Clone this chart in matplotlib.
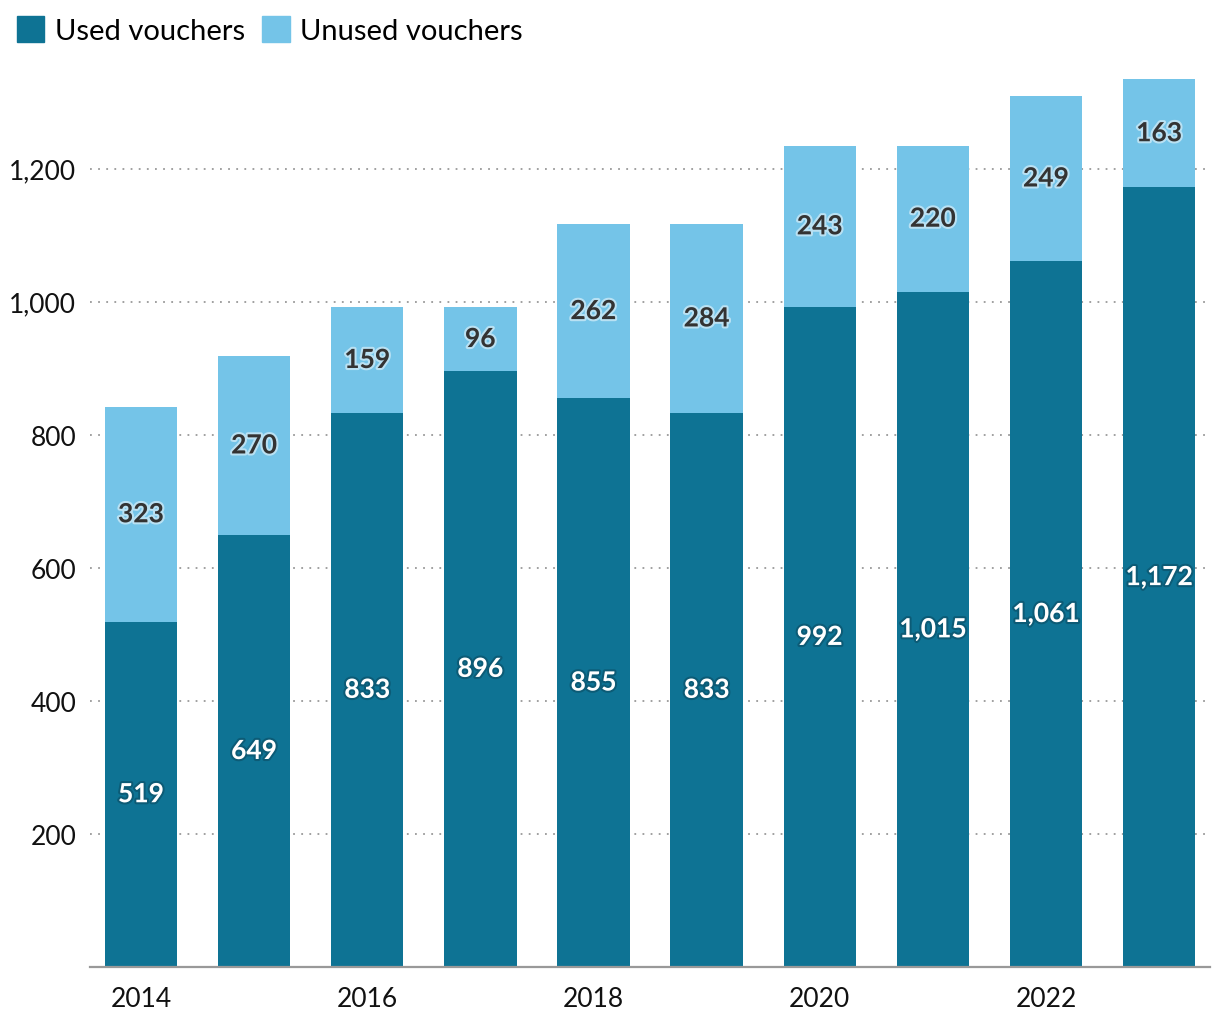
import numpy as np
import matplotlib
matplotlib.use("Agg")
import matplotlib.pyplot as plt
import matplotlib.patheffects as pe
from matplotlib.patches import Patch

plt.rcParams['font.family'] = ['Lato', 'DejaVu Sans']

years = [2014, 2015, 2016, 2017, 2018, 2019, 2020, 2021, 2022, 2023]
used = [519, 649, 833, 896, 855, 833, 992, 1015, 1061, 1172]
unused = [323, 270, 159, 96, 262, 284, 243, 220, 249, 163]
tick_years = [2014, 2016, 2018, 2020, 2022]
ytick_vals = [200, 400, 600, 800, 1000, 1200]

c_used = '#0e7394'
c_unused = '#74c4e8'

fig = plt.figure(figsize=(12.2, 10.2), dpi=100)
ax = fig.add_axes([0.0738, 0.0512, 0.918, 0.8736])

x = np.arange(len(years))
used = np.array(used)
unused = np.array(unused)

ax.bar(x, used, width=0.64, color=c_used, zorder=2)
ax.bar(x, unused, width=0.64, bottom=used, color=c_unused, zorder=2)

for xi, u, n in zip(x, used, unused):
    ax.text(xi, u / 2, f"{u:,}", ha='center', va='center', color='white',
            fontsize=19, fontweight='bold', zorder=3,
            path_effects=[pe.withStroke(linewidth=3, foreground='#0a3f52', alpha=0.45)])
    ax.text(xi, u + n / 2, f"{n:,}", ha='center', va='center', color='#333333',
            fontsize=19, fontweight='bold', zorder=3,
            path_effects=[pe.withStroke(linewidth=3, foreground='white', alpha=0.5)])

ax.set_xlim(-0.45, 9.45)
ax.set_ylim(0, 1340)

ax.set_yticks(ytick_vals)
ax.set_yticklabels([f"{v:,}" for v in ytick_vals])
ax.set_xticks([years.index(y) for y in tick_years])
ax.set_xticklabels([str(y) for y in tick_years])

ax.yaxis.grid(True, linestyle=(0, (1, 3.5)), color='#999999', linewidth=1.3, zorder=0)
ax.set_axisbelow(True)

for s in ['top', 'right', 'left']:
    ax.spines[s].set_visible(False)
ax.spines['bottom'].set_color('#999999')
ax.spines['bottom'].set_linewidth(1.6)

ax.tick_params(axis='y', length=0, pad=10, labelsize=19, labelcolor='#111111')
ax.tick_params(axis='x', length=0, pad=14, labelsize=19, labelcolor='#111111')

handles = [Patch(color=c_used, label='Used vouchers'),
           Patch(color=c_unused, label='Unused vouchers')]
fig.legend(handles=handles, loc='upper left', bbox_to_anchor=(-0.003, 1.003), ncol=2,
           frameon=False, fontsize=21, handlelength=0.95, handleheight=0.95,
           handletextpad=0.35, columnspacing=0.6, borderaxespad=0.3)

fig.savefig('out.png', dpi=100)
